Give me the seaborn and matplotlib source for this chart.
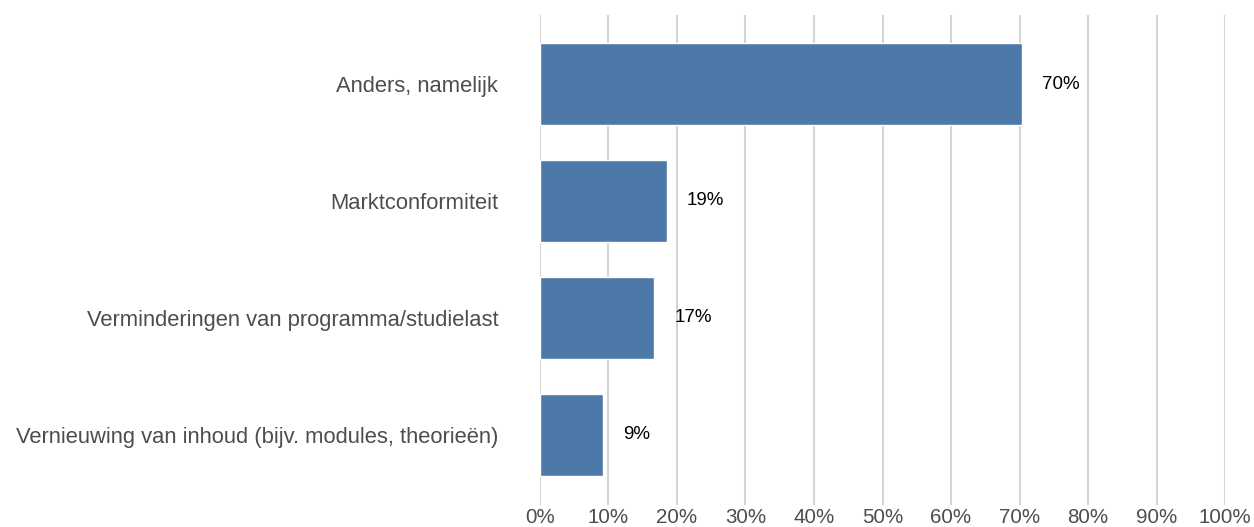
import matplotlib.pyplot as plt
import pandas as pd
import seaborn as sns

categories = [
    "Anders, namelijk",
    "Marktconformiteit",
    "Verminderingen van programma/studielast",
    "Vernieuwing van inhoud (bijv. modules, theorieën)",
]
values = [70.4, 18.5, 16.7, 9.2]
value_labels = ["70%", "19%", "17%", "9%"]
ticks = [0, 10, 20, 30, 40, 50, 60, 70, 80, 90, 100]
tick_labels = [f"{t}%" for t in ticks]

df = pd.DataFrame({"categorie": categories, "waarde": values})

sns.set_style("white")
plt.rcParams["font.family"] = ["Liberation Sans", "DejaVu Sans"]

fig = plt.figure(figsize=(12.54, 5.27), dpi=100)
ax = fig.add_axes([0.4306, 0.0417, 0.5463, 0.9298])

sns.barplot(
    data=df,
    x="waarde",
    y="categorie",
    orient="h",
    color="#4c79a7",
    saturation=1,
    width=0.7,
    ax=ax,
    zorder=2,
)

# value labels next to bars
for i, (v, lab) in enumerate(zip(values, value_labels)):
    ax.annotate(
        lab,
        xy=(v, i),
        xytext=(14.5, 0),
        textcoords="offset points",
        va="center",
        ha="left",
        fontsize=13.5,
        color="black",
    )

ax.set_xlim(0, 100)
ax.set_ylim(3.6, -0.59)
ax.set_xticks(ticks)
ax.set_xticklabels(tick_labels)
ax.xaxis.grid(True, color="#d4d4d4", linewidth=1.5, zorder=0)
ax.set_axisbelow(True)
ax.set_xlabel("")
ax.set_ylabel("")
ax.tick_params(axis="x", length=0, labelsize=14.8, labelcolor="#4d4d4d", pad=2)
ax.tick_params(axis="y", length=0, labelsize=15.8, labelcolor="#4d4d4d", pad=30)
sns.despine(ax=ax, left=True, bottom=True)

plt.savefig("out.png", dpi=100)
